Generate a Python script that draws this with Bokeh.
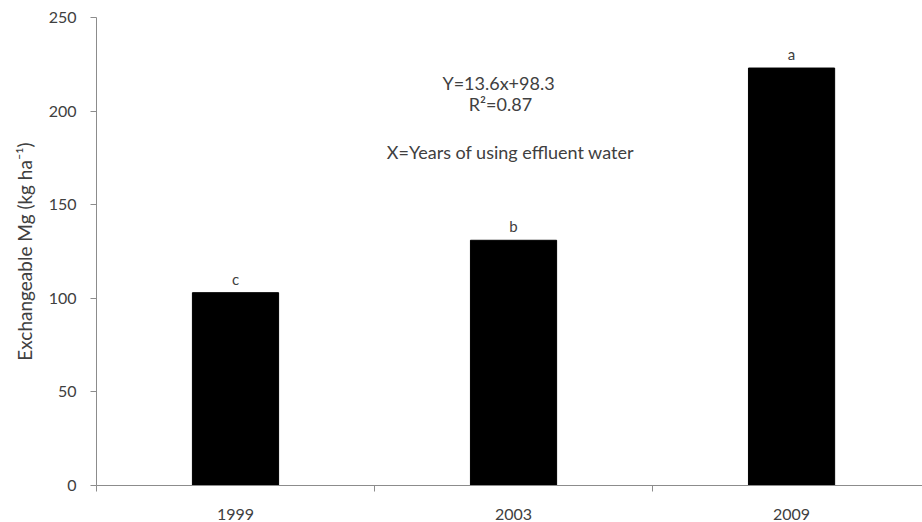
from bokeh.plotting import figure
from bokeh.models import Range1d, FixedTicker, Label, ColumnDataSource
from bokeh.core.properties import value
from bokeh.embed import file_html
from bokeh.resources import INLINE

years = ["1999", "2003", "2009"]
mg_values = [103, 131, 223]
letters = ["c", "b", "a"]
y_ticks = [0, 50, 100, 150, 200, 250]

FONT = "Lato"
TXT = "#404040"
AX = "#8c8c8c"

xpos = [i + 0.5 for i in range(len(years))]
src = ColumnDataSource(dict(x=xpos, top=mg_values, lab=letters))

p = figure(width=922, height=522, output_backend="svg", toolbar_location=None,
           x_range=Range1d(0, 2.971), y_range=Range1d(0, 250),
           min_border_left=96, min_border_top=17, min_border_right=0, min_border_bottom=36)
p.outline_line_color = None
p.xgrid.grid_line_color = None
p.ygrid.grid_line_color = None
p.background_fill_color = "white"
p.border_fill_color = "white"

p.vbar(x="x", top="top", width=0.31, bottom=0, source=src,
       fill_color="black", line_color="black")
p.text(x="x", y="top", text="lab", source=src, text_align="center",
       text_baseline="bottom", y_offset=-5, text_font=value(FONT),
       text_font_size="15px", text_color=TXT)

# x axis
xa = p.xaxis[0]
xa.ticker = FixedTicker(ticks=xpos, minor_ticks=[0, 1, 2, 3])
xa.major_label_overrides = {x: y for x, y in zip(xpos, years)}
xa.major_tick_line_color = None
xa.major_tick_out = 0
xa.major_tick_in = 0
xa.minor_tick_out = 6
xa.minor_tick_in = 0
xa.minor_tick_line_color = AX
xa.axis_line_color = AX
xa.major_label_standoff = 17
xa.major_label_text_font = FONT
xa.major_label_text_font_size = "16px"
xa.major_label_text_color = TXT

# y axis
ya = p.yaxis[0]
ya.ticker = FixedTicker(ticks=y_ticks, minor_ticks=[])
ya.axis_line_color = AX
ya.major_tick_line_color = AX
ya.major_tick_out = 6
ya.major_tick_in = 0
ya.minor_tick_line_color = None
ya.major_label_standoff = 14
ya.major_label_text_font = FONT
ya.major_label_text_font_size = "16px"
ya.major_label_text_color = TXT
ya.axis_label = "Exchangeable Mg (kg ha\u207b\u00b9)"
ya.axis_label_text_font = FONT
ya.axis_label_text_font_size = "19px"
ya.axis_label_text_font_style = "normal"
ya.axis_label_text_color = TXT
ya.axis_label_standoff = 10

for txt, x, y in [("Y=13.6x+98.3", 1.446, 214.8),
                  ("R\u00b2=0.87", 1.453, 203.6),
                  ("X=Years of using effluent water", 1.489, 178.0)]:
    p.add_layout(Label(x=x, y=y, text=txt, text_align="center", text_baseline="middle",
                       text_font=FONT, text_font_size="18px", text_color=TXT))

open("out.html", "w").write(file_html(p, INLINE))
